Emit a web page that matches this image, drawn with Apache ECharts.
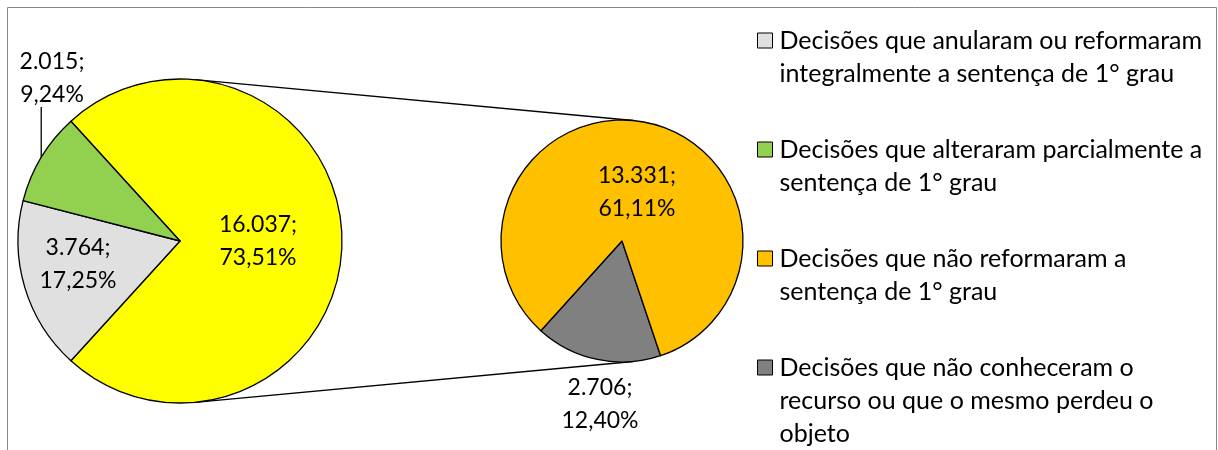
<!DOCTYPE html>
<html lang="pt">
<head>
    <meta charset="UTF-8">
    <title>Decisões de 2° grau</title>
    <script src="https://cdn.jsdelivr.net/npm/echarts@6/dist/echarts.min.js"></script>
    <style>
        html, body { margin: 0; padding: 0; background: #fff; }
        #chart { width: 1218px; height: 450px; }
    </style>
</head>
<body>
    <div id="chart"></div>
    <script>
        // pizza principal (a fatia "Outras" e detalhada na pizza secundaria)
        var mainNames = [
            'Outras',
            'Decisões que anularam ou reformaram integralmente a sentença de 1° grau',
            'Decisões que alteraram parcialmente a sentença de 1° grau'
        ];
        var mainValues = [16037, 3764, 2015];
        var mainColors = ['#ffff00', '#e0e0e0', '#92d050'];

        // pizza secundaria
        var subNames = [
            'Decisões que não conheceram o recurso ou que o mesmo perdeu o objeto',
            'Decisões que não reformaram a sentença de 1° grau'
        ];
        var subValues = [2706, 13331];
        var subColors = ['#808080', '#ffc000'];

        // legenda, na ordem da figura, com as quebras de linha
        var legendNames = [mainNames[1], mainNames[2], subNames[1], subNames[0]];
        var legendTexts = [
            'Decisões que anularam ou reformaram\nintegralmente a sentença de 1° grau',
            'Decisões que alteraram parcialmente a\nsentença de 1° grau',
            'Decisões que não reformaram a\nsentença de 1° grau',
            'Decisões que não conheceram o\nrecurso ou que o mesmo perdeu o\nobjeto'
        ];

        var total = mainValues.reduce(function (a, b) { return a + b; }, 0);

        var FONT = 'Lato';
        var FS = 23;        // rotulos das fatias
        var LEG_FS = 25;    // legenda
        var LH = 33;

        var mainC = [180, 241], mainR = 162;
        var subC = [622, 241], subR = 121;
        var mainStart = 360 * mainValues[0] / total / 2;
        var subStart = -71.4;

        function fmtNum(v) {
            return String(v).replace(/\B(?=(\d{3})+(?!\d))/g, '.');
        }
        function fmtPct(v) {
            return (v / total * 100).toFixed(2).replace('.', ',') + '%';
        }
        function polar(c, r, deg) {
            var a = deg * Math.PI / 180;
            return [c[0] + r * Math.cos(a), c[1] - r * Math.sin(a)];
        }

        // angulo medio de uma fatia (sentido horario a partir de start)
        function midAngle(values, start, idx) {
            var sum = values.reduce(function (a, b) { return a + b; }, 0);
            var before = 0;
            for (var i = 0; i < idx; i++) before += values[i];
            return start - (before + values[idx] / 2) / sum * 360;
        }

        // deslocamento dos rotulos em relacao ao centro de cada pizza
        var mainLabelOff = [[78, 0], [-102, 23], [-128, -163]];
        var subLabelOff = [[-22, 163], [15, -49]];

        var labelStyle = {
            show: true,
            color: '#000',
            fontFamily: FONT,
            fontSize: FS,
            lineHeight: LH,
            formatter: function (p) {
                return fmtNum(p.value) + ';\n' + fmtPct(p.value);
            }
        };

        function makeData(names, values, colors) {
            return names.map(function (n, i) {
                return { name: n, value: values[i], itemStyle: { color: colors[i] } };
            });
        }

        var mainData = makeData(mainNames, mainValues, mainColors);
        mainData[2].label = { position: 'outside' };
        mainData[2].labelLine = { show: true, lineStyle: { color: '#000', width: 1.3 } };

        var subData = makeData(subNames, subValues, subColors);
        subData[0].label = { position: 'outside' };
        subData[0].labelLine = { show: false };

        // tangentes externas comuns entre as duas pizzas
        var dx = subC[0] - mainC[0];
        var th = Math.acos((mainR - subR) / dx);
        var nUp = [Math.cos(th), -Math.sin(th)];
        var nDn = [Math.cos(th), Math.sin(th)];
        function tangent(n) {
            return {
                x1: mainC[0] + mainR * n[0], y1: mainC[1] + mainR * n[1],
                x2: subC[0] + subR * n[0], y2: subC[1] + subR * n[1]
            };
        }

        // icone da legenda: quadrado alinhado com a primeira linha do texto
        function legendIcon(lines) {
            var h = lines * LH;
            var top = LH / 2 - 7.5;
            return 'path://M0,0M17,' + h + 'M0,' + top + 'L15,' + top + 'L15,' + (top + 15) +
                'L0,' + (top + 15) + 'Z';
        }

        var legendFirstLine = [40, 149, 258, 367];
        var legends = legendNames.map(function (name, i) {
            var lines = legendTexts[i].split('\n').length;
            return {
                left: 757,
                top: legendFirstLine[i] - LH / 2,
                padding: 0,
                orient: 'vertical',
                selectedMode: false,
                itemWidth: 17,
                itemHeight: lines * LH,
                itemStyle: { borderColor: '#000', borderWidth: 1 },
                data: [{ name: name, icon: legendIcon(lines) }],
                formatter: function () { return legendTexts[i]; },
                textStyle: { color: '#000', fontFamily: FONT, fontSize: LEG_FS, lineHeight: LH }
            };
        });

        var chart = echarts.init(document.getElementById('chart'));
        chart.setOption({
            animation: false,
            backgroundColor: '#fff',
            legend: legends,
            graphic: [
                {
                    type: 'rect', z: 0, silent: true,
                    shape: { x: 7.5, y: 7.5, width: 1209, height: 460 },
                    style: { fill: null, stroke: '#868686', lineWidth: 1 }
                },
                { type: 'line', z: 1, silent: true, shape: tangent(nUp), style: { stroke: '#000', lineWidth: 1.3 } },
                { type: 'line', z: 1, silent: true, shape: tangent(nDn), style: { stroke: '#000', lineWidth: 1.3 } }
            ],
            series: [
                {
                    type: 'pie',
                    name: 'principal',
                    center: mainC,
                    radius: mainR,
                    startAngle: mainStart,
                    clockwise: true,
                    avoidLabelOverlap: false,
                    silent: true,
                    emphasis: { disabled: true },
                    itemStyle: { borderColor: '#000', borderWidth: 1.3 },
                    label: Object.assign({ position: 'inner' }, labelStyle),
                    labelLine: { show: false },
                    labelLayout: function (p) {
                        var o = mainLabelOff[p.dataIndex];
                        var res = {
                            x: mainC[0] + o[0], y: mainC[1] + o[1],
                            align: 'center', verticalAlign: 'middle'
                        };
                        if (p.dataIndex === 2) {
                            var a = polar(mainC, mainR, midAngle(mainValues, mainStart, 2));
                            var bottom = res.y + LH - 4;
                            res.labelLinePoints = [a, [a[0], bottom], [a[0], bottom]];
                        }
                        return res;
                    },
                    data: mainData
                },
                {
                    type: 'pie',
                    name: 'secundaria',
                    center: subC,
                    radius: subR,
                    startAngle: subStart,
                    clockwise: true,
                    avoidLabelOverlap: false,
                    silent: true,
                    emphasis: { disabled: true },
                    itemStyle: { borderColor: '#000', borderWidth: 1.3 },
                    label: Object.assign({ position: 'inner' }, labelStyle),
                    labelLine: { show: false },
                    labelLayout: function (p) {
                        var o = subLabelOff[p.dataIndex];
                        return {
                            x: subC[0] + o[0], y: subC[1] + o[1],
                            align: 'center', verticalAlign: 'middle'
                        };
                    },
                    data: subData
                }
            ]
        });
    </script>
</body>
</html>
